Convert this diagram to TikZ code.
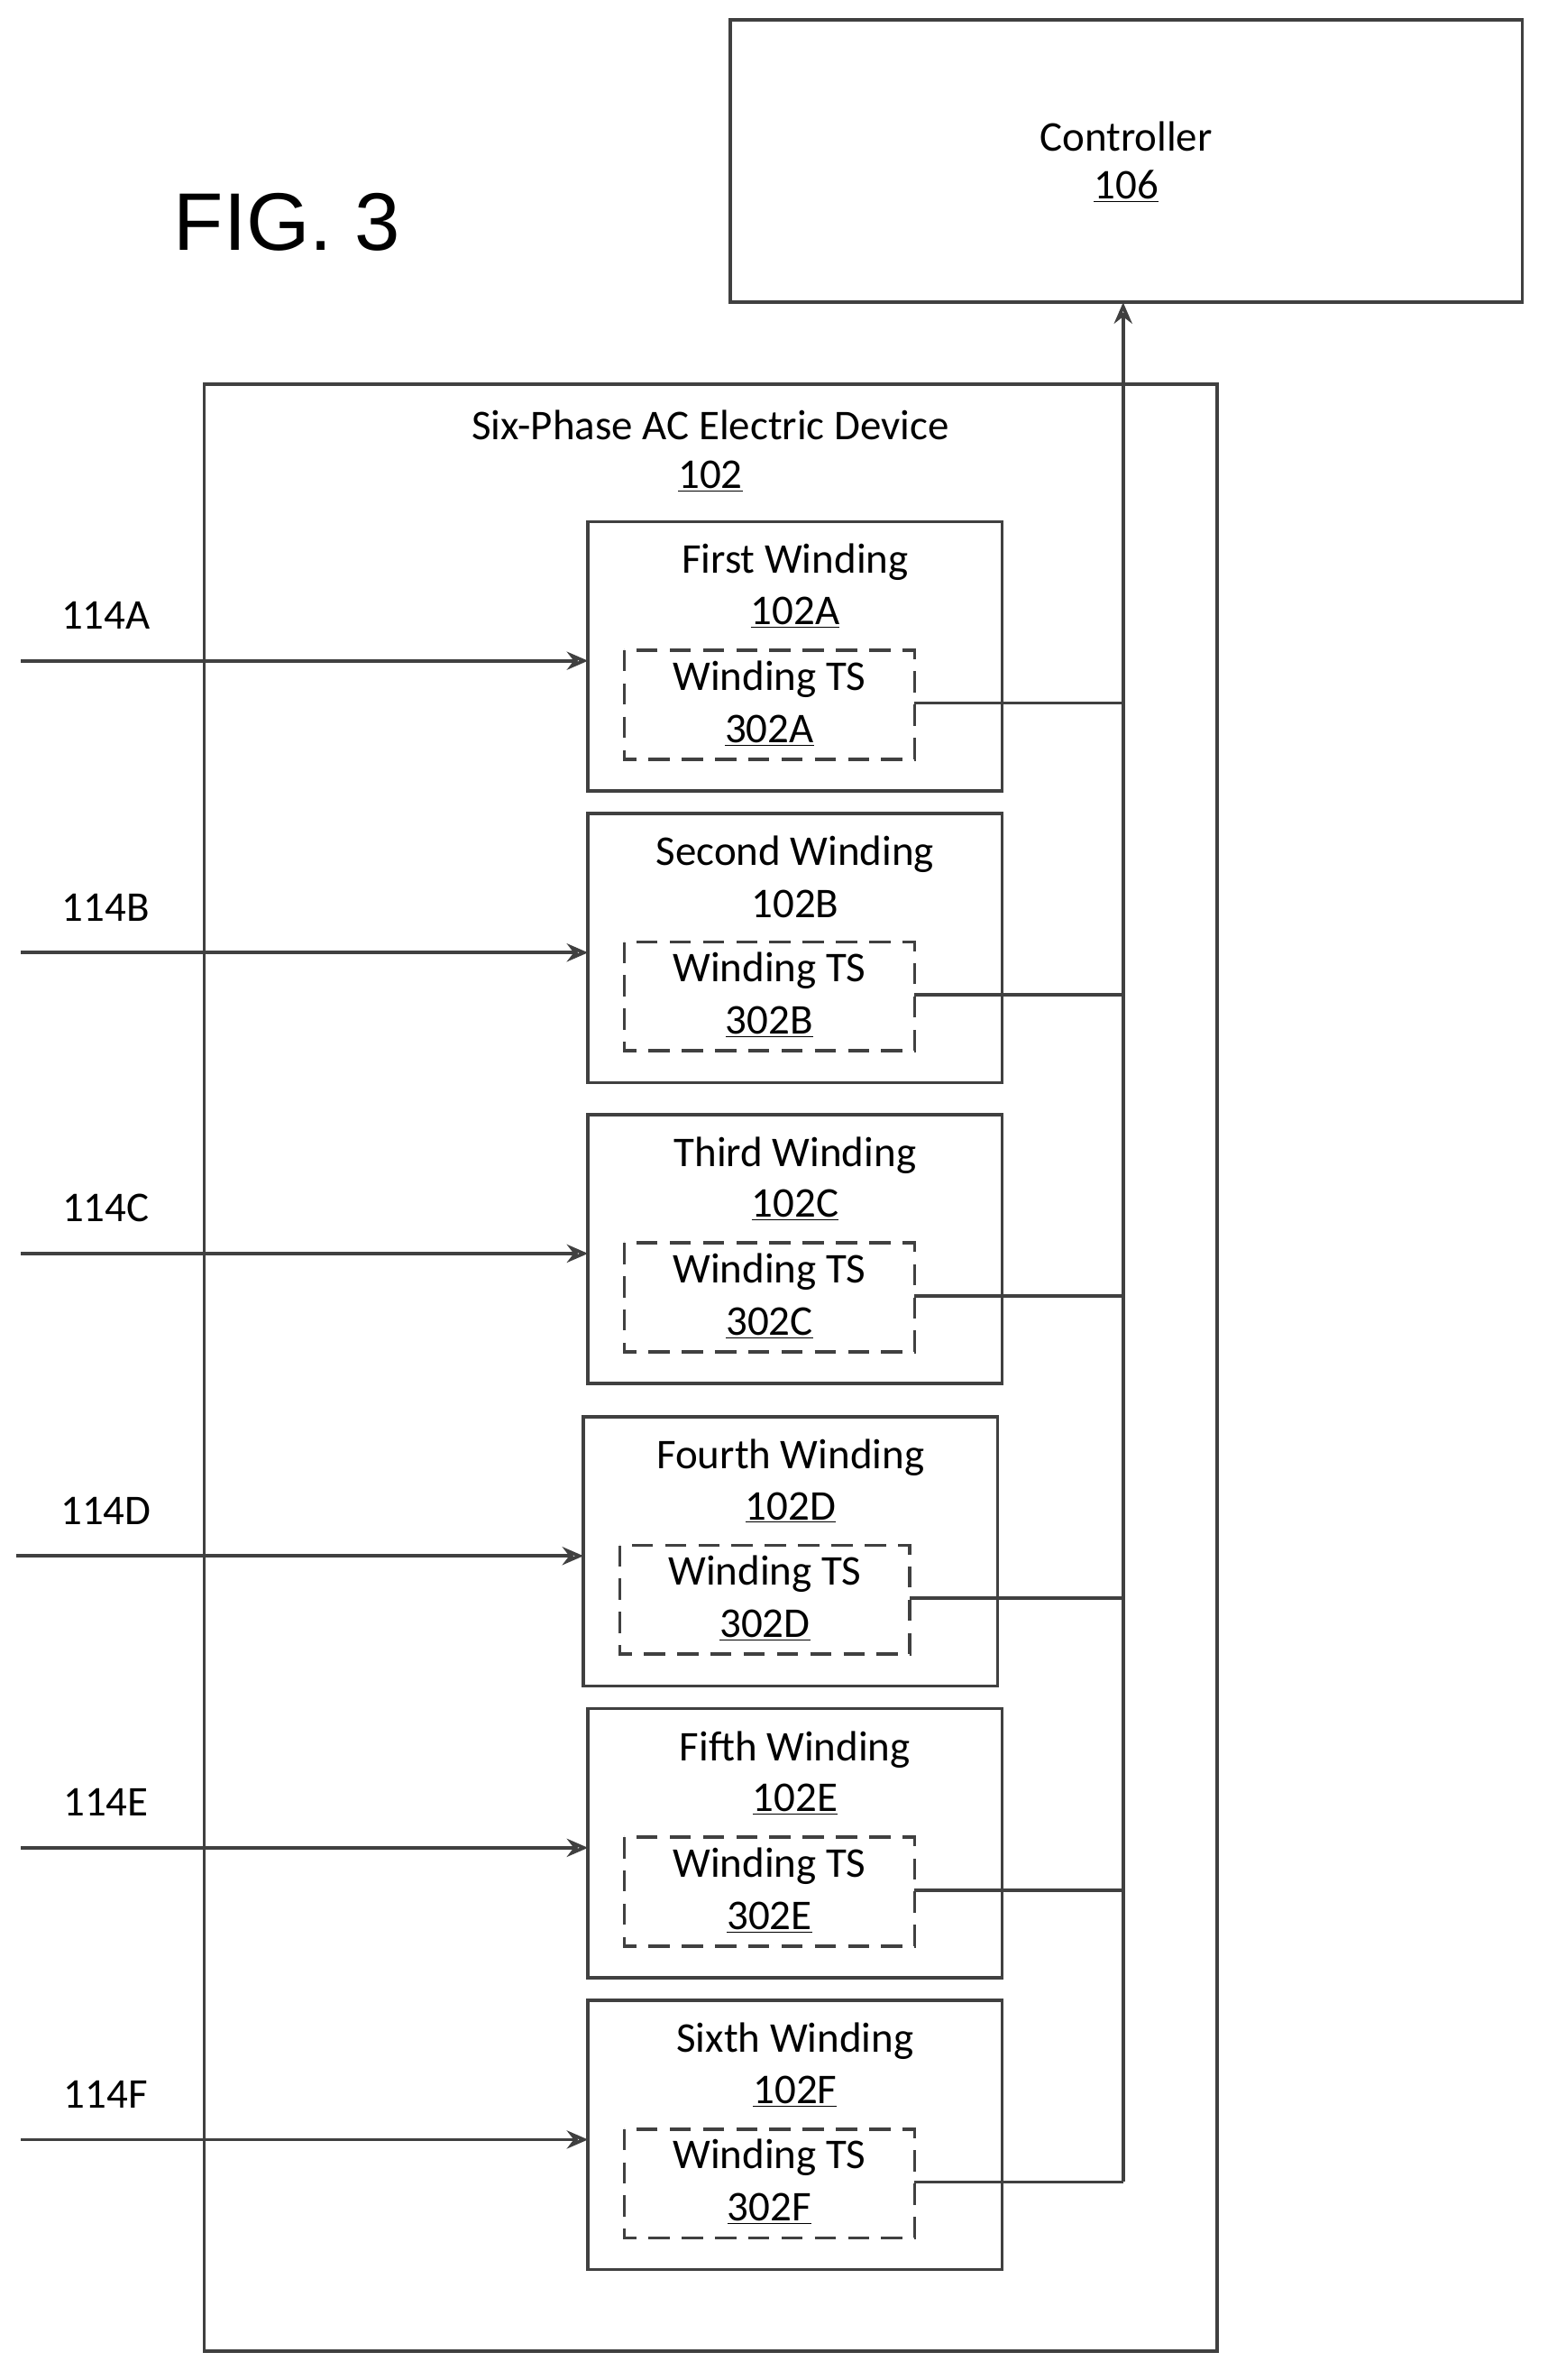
\documentclass[tikz,border=0pt]{standalone}
\usepackage{fontspec}
\setmainfont{Carlito}
\newfontfamily\arialf{Liberation Sans}
\usetikzlibrary{arrows.meta}
\begin{document}
\begin{tikzpicture}[x=1pt,y=-1pt,
  ln/.style={draw=black!75,line width=2.2pt},
  box/.style={ln},
  ts/.style={ln,dash pattern=on 14pt off 8pt},
  lab/.style={font=\fontsize{28}{33}\selectfont,anchor=center,inner sep=0},
  arr/.style={ln,-{Stealth[length=14pt,width=12pt,open]}}]
\useasboundingbox (0,0) rectangle (1024,1574);
\node[lab,font=\arialf\fontsize{54}{60}\selectfont] (fig) at (190,147) {FIG. 3};
\draw[box] (483,13) rectangle (1007,200);
\coordinate (ctl) at (743,200);
\node[lab] (c1) at (745,90) {Controller};
\node[lab] (c2) at (745,123) {\underline{106}};
\draw[box] (135,254) rectangle (805,1555);
\node[lab] (d1) at (470,281) {Six-Phase AC Electric Device};
\node[lab] (d2) at (470,315) {\underline{102}};
\foreach \t/\dx/\name/\num/\id/\L in {
  345/0/First Winding/\underline{102A}/A/114A,
  538/0/Second Winding/102B/B/114B,
  737/0/Third Winding/\underline{102C}/C/114C,
  937/-3/Fourth Winding/\underline{102D}/D/114D,
  1130/0/Fifth Winding/\underline{102E}/E/114E,
  1323/0/Sixth Winding/\underline{102F}/F/114F}{
  \draw[box] (389+\dx,\t) rectangle (663+\dx,\t+178);
  \node[lab] (w\id) at (526+\dx,\t+27) {\name};
  \node[lab] (n\id) at (526+\dx,\t+60) {\num};
  \draw[ts] (413+\dx,\t+85) rectangle (605+\dx,\t+157);
  \coordinate (tsr\id) at (605+\dx,\t+120);
  \node[lab] (t\id) at (509+\dx,\t+104) {Winding TS};
  \node[lab] (u\id) at (509+\dx,\t+138) {\underline{302\id}};
  \coordinate (in\id) at (14+\dx,\t+92);
  \coordinate (win\id) at (389+\dx,\t+92);
  \draw[arr] (in\id) -- (win\id);
  \node[lab] (l\id) at (70,\t+62) {\L};
  \draw[ln] (tsr\id) -- (743,\t+120);
}
\draw[arr] (743,1443) -- (ctl);
\end{tikzpicture}
\end{document}
